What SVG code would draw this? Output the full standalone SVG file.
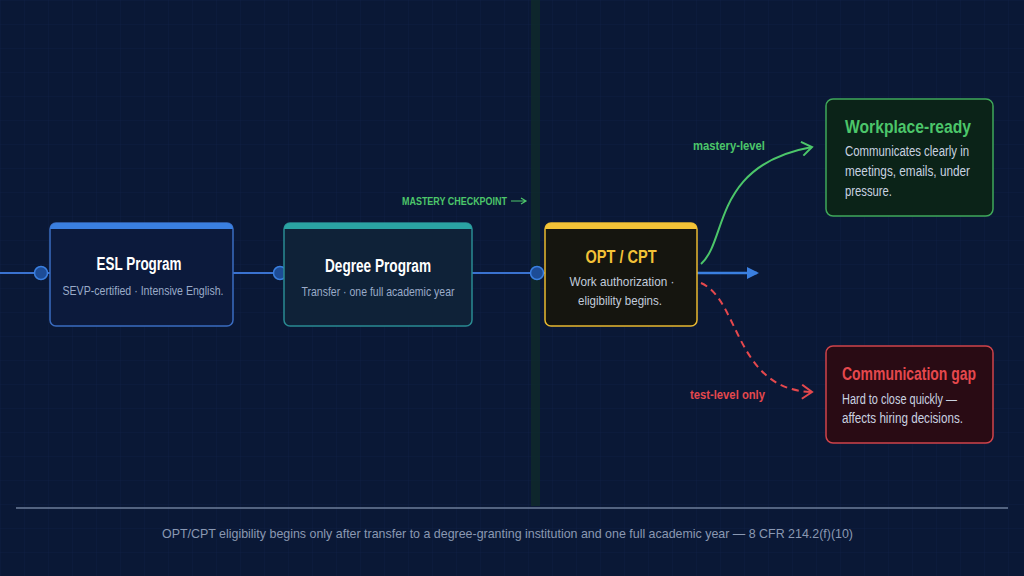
<svg xmlns="http://www.w3.org/2000/svg" width="1024" height="576" viewBox="0 0 1024 576">
<defs>
<pattern id="grid" width="24" height="24" patternUnits="userSpaceOnUse">
<path d="M24 0H0V24" fill="none" stroke="#11224a" stroke-width="0.6"/>
</pattern>
<marker id="arrBlue" markerWidth="12" markerHeight="12" refX="10" refY="6" orient="auto" markerUnits="userSpaceOnUse">
<path d="M0 0L12 6L0 12Z" fill="#3a7fe0"/>
</marker>
<marker id="arrGreen" markerWidth="16" markerHeight="16" refX="13" refY="8" orient="auto" markerUnits="userSpaceOnUse">
<path d="M3 1L13 8L3 15" fill="none" stroke="#4cc66a" stroke-width="2"/>
</marker>
<marker id="arrRed" markerWidth="16" markerHeight="16" refX="13" refY="8" orient="auto" markerUnits="userSpaceOnUse">
<path d="M3 1L13 8L3 15" fill="none" stroke="#e5484d" stroke-width="2"/>
</marker>
</defs>
<style>
text{font-family:"Liberation Sans",Arial,sans-serif}
.t{font-size:17.5px;font-weight:bold;text-anchor:middle}
.s{font-size:13.5px;fill:#9aabc8;text-anchor:middle}
.b{font-size:14px;fill:#c9d2e0}
.h{font-size:18.5px;font-weight:bold}
.lbl{font-size:13px;font-weight:bold}
</style>
<rect width="1024" height="576" fill="#0a1836"/>
<rect width="1024" height="576" fill="url(#grid)"/>
<rect x="531" y="0" width="9" height="506" fill="#0f2a2a" opacity="0.8"/>

<g id="connectors">
<line x1="0" y1="273" x2="50" y2="273" stroke="#3a72d0" stroke-width="2"/>
<line x1="233" y1="273" x2="284" y2="273" stroke="#3a72d0" stroke-width="2"/>
<line x1="472" y1="273" x2="545" y2="273" stroke="#3a72d0" stroke-width="2"/>
<circle cx="41" cy="273" r="6.5" fill="#1d4c96" stroke="#3a7fe0" stroke-width="1.5"/>
<circle cx="280" cy="273" r="6.5" fill="#1d4c96" stroke="#3a7fe0" stroke-width="1.5"/>
<circle cx="537" cy="273" r="6.5" fill="#1d4c96" stroke="#3a7fe0" stroke-width="1.5"/>
<line x1="697" y1="273" x2="757" y2="273" stroke="#3a7fe0" stroke-width="2.5" marker-end="url(#arrBlue)"/>
<path d="M701 264C728 240 712 165 812 147" fill="none" stroke="#4cc66a" stroke-width="2" marker-end="url(#arrGreen)"/>
<path d="M701 283C740 300 735 390 812 392" fill="none" stroke="#e5484d" stroke-width="2" stroke-dasharray="7 5" marker-end="url(#arrRed)"/>
<text x="693" y="150" class="lbl" fill="#4cc66a" textLength="72" lengthAdjust="spacingAndGlyphs">mastery-level</text>
<text x="690" y="399" class="lbl" fill="#e5484d" textLength="75" lengthAdjust="spacingAndGlyphs">test-level only</text>
<text x="402" y="205" font-size="11" font-weight="bold" fill="#4cc66a" textLength="105" lengthAdjust="spacingAndGlyphs">MASTERY CHECKPOINT</text>
<path d="M511 201H525M521 198L526 201L521 204" fill="none" stroke="#4cc66a" stroke-width="1.2"/>
</g>

<g id="esl">
<rect x="50" y="223" width="183" height="103" rx="6" fill="#0c1a3c" stroke="#3a6cc0" stroke-width="1.5"/>
<path d="M50 229a6 6 0 0 1 6-6h171a6 6 0 0 1 6 6z" fill="#3a7fe0"/>
<text x="139" y="270" class="t" fill="#ffffff" textLength="85" lengthAdjust="spacingAndGlyphs">ESL Program</text>
<text x="143" y="295" class="s" textLength="161" lengthAdjust="spacingAndGlyphs">SEVP-certified · Intensive English.</text>
</g>

<g id="degree">
<rect x="284" y="223" width="188" height="103" rx="6" fill="#0f2238" stroke="#2a8a92" stroke-width="1.5"/>
<path d="M284 229a6 6 0 0 1 6-6h176a6 6 0 0 1 6 6z" fill="#2aa3a3"/>
<text x="378" y="272" class="t" fill="#ffffff" textLength="106" lengthAdjust="spacingAndGlyphs">Degree Program</text>
<text x="378" y="296" class="s" textLength="153" lengthAdjust="spacingAndGlyphs">Transfer · one full academic year</text>
</g>

<g id="opt">
<rect x="545" y="223" width="152" height="103" rx="6" fill="#15150f" stroke="#e8b830" stroke-width="1.5"/>
<path d="M545 229a6 6 0 0 1 6-6h140a6 6 0 0 1 6 6z" fill="#f3c237"/>
<text x="621" y="263" class="t" fill="#f3c237" textLength="71" lengthAdjust="spacingAndGlyphs">OPT / CPT</text>
<text x="622" y="286" class="s" style="fill:#c2ccdc" textLength="105" lengthAdjust="spacingAndGlyphs">Work authorization ·</text>
<text x="620" y="305" class="s" style="fill:#c2ccdc" textLength="84" lengthAdjust="spacingAndGlyphs">eligibility begins.</text>
</g>

<g id="workplace">
<rect x="826" y="99" width="167" height="117" rx="7" fill="#0b2318" stroke="#3fa85a" stroke-width="1.5"/>
<text x="845" y="133" class="h" fill="#4cc66a" textLength="126" lengthAdjust="spacingAndGlyphs">Workplace-ready</text>
<text x="845" y="156" class="b" textLength="124" lengthAdjust="spacingAndGlyphs">Communicates clearly in</text>
<text x="845" y="176" class="b" textLength="125" lengthAdjust="spacingAndGlyphs">meetings, emails, under</text>
<text x="845" y="196" class="b" textLength="47" lengthAdjust="spacingAndGlyphs">pressure.</text>
</g>

<g id="gap">
<rect x="826" y="346" width="167" height="97" rx="7" fill="#290b14" stroke="#d0434a" stroke-width="1.5"/>
<text x="842" y="380" class="h" fill="#e5484d" textLength="134" lengthAdjust="spacingAndGlyphs">Communication gap</text>
<text x="842" y="404" class="b" textLength="115" lengthAdjust="spacingAndGlyphs">Hard to close quickly —</text>
<text x="842" y="423" class="b" textLength="121" lengthAdjust="spacingAndGlyphs">affects hiring decisions.</text>
</g>

<line x1="16" y1="508" x2="1008" y2="508" stroke="#6c7c9a" stroke-width="1.5"/>
<text x="162" y="538" font-size="13.5" fill="#8a98b2" textLength="691" lengthAdjust="spacingAndGlyphs">OPT/CPT eligibility begins only after transfer to a degree-granting institution and one full academic year — 8 CFR 214.2(f)(10)</text>
</svg>
